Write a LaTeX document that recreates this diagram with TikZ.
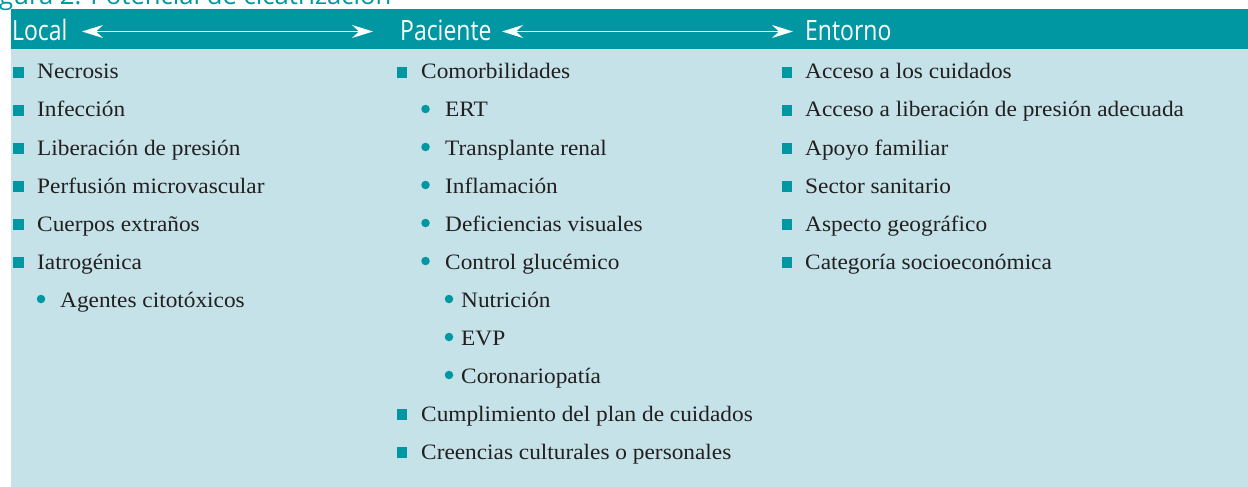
\documentclass[tikz,border=0pt]{standalone}
\usepackage{fontspec}
\setmainfont[FakeStretch=1.06]{Liberation Serif}
\newfontfamily\headfont[FakeStretch=0.82]{Open Sans}
\newfontfamily\titlefont{Open Sans}
\usetikzlibrary{arrows.meta}
\definecolor{tealh}{HTML}{0096A2}
\definecolor{bodyc}{HTML}{C4E2E7}
\definecolor{textc}{HTML}{231F20}
\tikzset{
  sqb/.style={fill=tealh, minimum size=10.5pt, inner sep=0pt, outer sep=0pt},
  dotb/.style={circle, fill=tealh, minimum size=8.5pt, inner sep=0pt, outer sep=0pt},
  item/.style={anchor=base west, inner sep=0pt, text=textc, font=\fontsize{22}{26}\selectfont},
  head/.style={anchor=base west, inner sep=0pt, text=white, font=\headfont\fontsize{28}{30}\selectfont},
  harrow/.style={white, line width=1.4pt, {Stealth[length=21pt,width=13pt,inset=7pt]}-{Stealth[length=21pt,width=13pt,inset=7pt]}}
}
\begin{document}
\begin{tikzpicture}[x=1pt,y=-1pt]
\useasboundingbox (0,0) rectangle (1248,487);
\clip (0,0) rectangle (1248,487);
% title (clipped at top)
\node[anchor=base west, inner sep=0pt, text=tealh, font=\titlefont\fontsize{25.7}{28}\selectfont] (title) at (-1,5) {gura 2: Potencial de cicatrización};
% panels
\fill[bodyc] (11,49) rectangle (1248,487);
\fill[tealh] (11,9) rectangle (1248,49);
% headers
\node[head] (local) at (12,41) {Local};
\node[head] (pac) at (400,41) {Paciente};
\node[head] (ent) at (805,41) {Entorno};
\coordinate (a1) at (82,31.5);
\coordinate (a2) at (373,31.5);
\coordinate (b1) at (502,31.5);
\coordinate (b2) at (793,31.5);
\draw[harrow] (a1) -- (a2);
\draw[harrow] (b1) -- (b2);
% column 1
\foreach \n/\b/\t in {c1a/79/Necrosis, c1b/117/Infección, c1c/155/Liberación de presión, c1d/193/Perfusión microvascular, c1e/231/Cuerpos extraños, c1f/269/Iatrogénica}{
  \node[sqb] (s\n) at (18.5,\b-6.5) {};
  \node[item] (\n) at (37,\b) {\t};
}
\node[dotb] (dc1g) at (41,299) {};
\node[item] (c1g) at (60,307) {Agentes citotóxicos};
% column 2
\node[sqb] (sc2a) at (402,72.5) {};
\node[item] (c2a) at (421,79) {Comorbilidades};
\foreach \n/\b/\t in {c2b/117/ERT, c2c/155/Transplante renal, c2d/193/Inflamación, c2e/231/Deficiencias visuales, c2f/269/Control glucémico}{
  \node[dotb] (d\n) at (425.5,\b-8) {};
  \node[item] (\n) at (445,\b) {\t};
}
\foreach \n/\b/\t in {c2g/307/Nutrición, c2h/345/EVP, c2i/383/Coronariopatía}{
  \node[dotb] (d\n) at (449,\b-8) {};
  \node[item] (\n) at (461,\b) {\t};
}
\foreach \n/\b/\t in {c2j/421/Cumplimiento del plan de cuidados, c2k/459/Creencias culturales o personales}{
  \node[sqb] (s\n) at (402,\b-6.5) {};
  \node[item] (\n) at (421,\b) {\t};
}
% column 3
\foreach \n/\b/\t in {c3a/79/Acceso a los cuidados, c3b/117/Acceso a liberación de presión adecuada, c3c/155/Apoyo familiar, c3d/193/Sector sanitario, c3e/231/Aspecto geográfico, c3f/269/Categoría socioeconómica}{
  \node[sqb] (s\n) at (787,\b-6.5) {};
  \node[item] (\n) at (805,\b) {\t};
}
\end{tikzpicture}
\end{document}
